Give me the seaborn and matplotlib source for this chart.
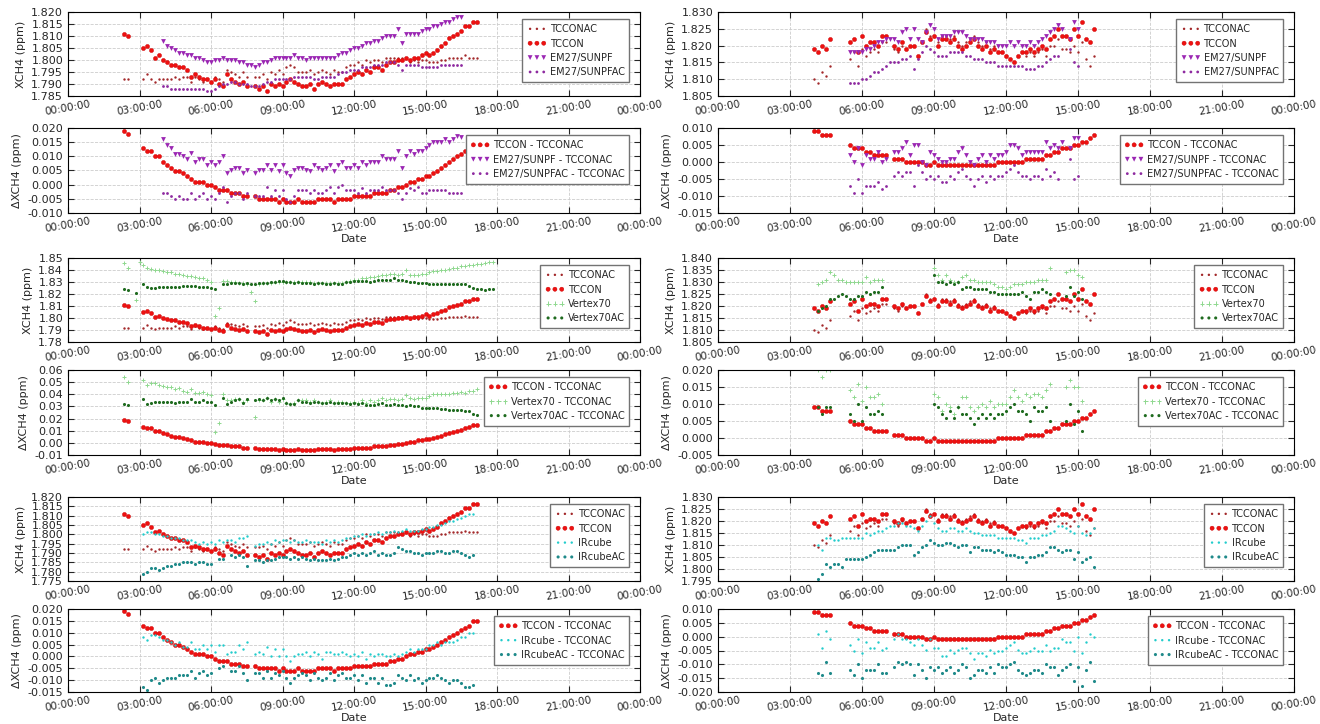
import numpy as np
import pandas as pd
import matplotlib
matplotlib.use("Agg")
import matplotlib.pyplot as plt
import matplotlib.dates as mdates
from matplotlib.ticker import MultipleLocator, FormatStrFormatter
import seaborn as sns

n = np.nan

# =========================
# Data (XCH4 in ppb, 10 min steps)
# =========================

# day 1 (left column), from 02:20
tccon_l = [1811, 1810, n, n, n, 1805, 1806, 1804, 1801, 1802,
           1800, 1799, 1798, 1798, 1797, 1797, 1796, 1793, 1794, 1793,
           1792, 1792, 1791, 1792, 1790, 1789, 1794, 1792, 1791, 1790,
           1791, 1789, n, 1789, 1788, 1789, 1787, 1790, 1789, 1790,
           1789, 1791, 1792, 1791, 1790, 1789, 1789, 1790, 1788, 1790,
           1791, 1790, 1789, 1790, 1790, 1790, 1792, 1793, 1794, 1795,
           1794, 1796, 1795, 1797, 1797, 1796, 1798, 1799, 1799, 1800,
           1800, 1801, 1800, 1801, 1801, 1802, 1803, 1802, 1803, 1804,
           1806, 1807, 1809, 1810, 1811, 1812, 1814, 1814, 1816, 1816,
           n, n, n, n]
tccon_diff_l = [19, 18, n, n, n, 13, 12, 12, 10, 10,
                8, 7, 6, 5, 5, 4, 3, 2, 1, 1,
                1, 0, 0, -1, -2, -2, -2, -3, -3, -3,
                -4, -4, n, -4, -5, -5, -5, -5, -5, -6,
                -5, -6, -6, -6, -5, -6, -6, -6, -6, -5,
                -5, -5, -5, -6, -5, -5, -5, -5, -4, -4,
                -4, -4, -4, -3, -3, -3, -3, -2, -2, -1,
                -1, 0, 1, 1, 2, 2, 3, 3, 4, 5,
                6, 7, 8, 9, 10, 11, 12, 13, 15, 15,
                n, n, n, n]
em27_l = [n] * 10 + [1808, 1806, 1805, 1804, 1803, 1803, 1802, 1802, 1801, 1801,
                     1800, 1799, 1799, 1800, 1800, 1801, 1800, 1800, 1800, 1799,
                     1799, 1798, 1798, 1797, 1798, 1799, 1799, 1800, 1801, 1801,
                     1801, 1801, 1801, 1802, 1801, 1801, 1800, 1801, 1801, 1801,
                     1801, 1801, 1801, 1801, 1802, 1803, 1803, 1804, 1805, 1805,
                     1806, 1807, 1807, 1808, 1808, 1809, 1810, 1810, 1810, 1813,
                     1807, 1811, 1811, 1811, 1811, 1812, 1813, 1813, 1814, 1814,
                     1815, 1816, 1816, 1817, 1818, 1818] + [n] * 8
em27ac_l = [n] * 10 + [1789, 1789, 1788, 1788, 1788, 1788, 1788, 1788, 1788, 1788,
                       1788, 1787, 1787, 1788, 1789, 1790, 1790, 1791, 1791, 1790,
                       1790, 1790, 1789, 1789, 1789, 1790, 1791, 1791, 1792, 1792,
                       1792, 1792, 1792, 1793, 1793, 1793, 1793, 1793, 1792, 1792,
                       1793, 1793, 1793, 1793, 1794, 1795, 1795, 1796, 1796, 1796,
                       1797, 1797, 1797, 1798, 1798, 1798, 1799, 1799, 1799, 1798,
                       1796, 1798, 1798, 1798, 1798, 1797, 1797, 1797, 1797, 1797,
                       1798, 1798, 1798, 1798, 1798, 1798] + [n] * 8
vertex_l = [1846, 1842, n, 1815, 1847, 1844, 1842, 1841, 1840, 1840,
            1839, 1838, 1838, 1837, 1837, 1836, 1835, 1835, 1834, 1833,
            1833, 1832, 1830, 1802, 1808, 1831, 1831, 1830, 1830, 1829,
            1829, 1828, 1822, 1814, 1828, 1829, 1829, 1829, 1830, 1830,
            1830, 1830, 1830, 1830, 1830, 1830, 1830, 1830, 1829, 1829,
            1829, 1829, 1829, 1829, 1829, 1829, 1830, 1831, 1832, 1832,
            1833, 1833, 1834, 1834, 1835, 1836, 1836, 1837, 1837, 1836,
            1837, 1840, 1836, 1836, 1836, 1837, 1837, 1838, 1839, 1839,
            1840, 1840, 1841, 1842, 1842, 1843, 1843, 1844, 1844, 1845,
            1845, 1846, 1847, 1847]
vertexac_l = [1824, 1823, n, 1821, n, 1828, 1826, 1825, 1825, 1826,
              1826, 1826, 1826, 1826, 1826, 1827, 1827, 1827, 1827, 1826,
              1826, 1826, 1825, 1824, n, 1828, 1828, 1829, 1829, 1829,
              1828, 1829, 1828, 1828, 1829, 1829, 1829, 1830, 1830, 1831,
              1831, 1830, 1830, 1829, 1830, 1829, 1829, 1829, 1828, 1829,
              1829, 1828, 1828, 1829, 1828, 1828, 1830, 1830, 1831, 1831,
              1831, 1831, 1830, 1831, 1832, 1832, 1832, 1832, 1833, 1832,
              1832, 1831, 1830, 1830, 1829, 1829, 1829, 1828, 1828, 1828,
              1828, 1828, 1828, 1828, 1828, 1828, 1828, 1827, 1825, 1824,
              1824, 1823, 1824, 1824]
ircube_l = [n] * 5 + [1800, 1801, 1801, 1800, 1800,
                      1799, 1799, 1798, 1798, 1798, 1797, 1797, 1797, 1796, 1795,
                      1796, 1795, 1796, 1795, 1797, 1796, 1797, 1797, 1796, 1798,
                      1798, 1799, n, 1794, 1795, 1795, 1796, 1795, 1797, 1796,
                      1797, 1797, 1796, 1797, 1796, 1796, 1797, 1796, 1796, 1796,
                      1795, 1797, 1796, 1797, 1796, 1797, 1798, 1798, 1799, 1799,
                      1800, 1799, 1800, 1800, 1801, 1800, 1801, 1801, 1802, 1801,
                      1802, 1803, 1802, 1802, 1802, 1803, 1803, 1804, 1804, 1805,
                      1805, 1806, 1807, 1807, 1808, 1809, 1810, 1811, 1811] + [n] * 5
ircubeac_l = [n] * 5 + [1779, 1780, 1782, 1782, 1781,
                        1782, 1783, 1783, 1784, 1784, 1785, 1785, 1785, 1784, 1785,
                        1785, 1784, 1784, n, 1787, 1787, n, 1789, 1788, 1789,
                        1788, 1783, n, 1786, 1786, 1785, 1786, 1786, 1787, 1788,
                        1788, 1788, 1787, 1788, 1787, 1788, 1787, 1786, 1787, 1786,
                        1786, 1786, 1787, 1786, 1787, 1788, 1788, 1789, 1790, 1789,
                        1790, 1789, 1790, 1791, 1789, 1790, 1789, 1789, 1790, 1793,
                        1792, 1791, 1791, 1790, 1790, 1789, 1790, 1790, 1790, 1791,
                        1791, 1790, 1790, 1791, 1791, 1790, 1789, 1788, 1789] + [n] * 5

# day 2 (right column), from 04:00
tccon_r = [1819, 1818, 1820, 1819, 1822, n, n, n, n, 1821,
           1822, 1818, 1823, 1820, 1821, 1821, 1820, 1823, 1823, n,
           1820, 1819, 1821, 1819, 1820, 1820, 1817, 1821, 1824, 1822,
           1823, 1820, 1822, 1822, 1821, 1822, 1820, 1819, 1820, 1821,
           1822, 1820, 1819, 1820, 1818, 1819, 1818, 1818, 1817, 1816,
           1815, 1817, 1818, 1818, 1819, 1818, 1819, 1820, 1819, 1822,
           1823, 1825, 1823, 1823, 1822, 1825, 1823, 1827, 1822, 1821,
           1825, n]
tccon_diff_r = [9, 9, 8, 8, 8, n, n, n, n, 5,
                4, 4, 4, 3, 3, 2, 2, 2, 2, n,
                1, 1, 1, 0, 0, 0, 0, 0, -1, -1,
                0, -1, -1, -1, -1, -1, -1, -1, -1, -1,
                -1, -1, -1, -1, -1, -1, 0, 0, 0, 0,
                0, 0, 0, 1, 1, 1, 1, 1, 2, 2,
                3, 3, 4, 4, 4, 5, 5, 6, 6, 7,
                8, n]
em27_r = [n] * 9 + [1818, 1818, 1818, 1818, 1819, 1819, 1820, 1821, 1821, 1822, 1822,
                    1822, 1821, 1824, 1825, 1822, 1825, 1822, 1821, 1824, 1826,
                    1825, 1822, 1823, 1823, 1823, 1824, 1824, 1824, 1823, 1822,
                    1822, 1822, 1822, 1821, 1821, 1821, 1820, 1820, 1820, 1821,
                    1820, 1821, 1820, 1820, 1821, 1820, 1821, 1822, 1823, 1824,
                    1825, 1826, 1825, n, 1822, 1827, 1825] + [n] * 5
em27ac_r = [n] * 9 + [1809, 1809, 1809, 1810, 1810, 1811, 1812, 1812, 1813, 1814, 1815,
                      1815, 1815, 1816, 1816, 1817, 1813, 1816, 1818, 1820, 1819,
                      1818, 1817, 1817, 1817, 1818, 1818, 1818, 1818, 1817, 1817,
                      1816, 1816, 1816, 1815, 1815, 1815, 1814, 1814, 1814, 1814,
                      1814, 1814, 1814, 1813, 1813, 1813, 1814, 1814, 1815, 1816,
                      1817, 1817, n, n, 1819, 1815, 1814] + [n] * 5
vertex_r = [n, 1829, 1830, 1831, 1834, 1833, 1831, 1831, 1830, 1830,
            1830, 1830, 1830, 1832, 1830, 1831, 1831, 1831] + [n] * 12 + [
            1836, 1833, 1831, 1833, 1831, 1830, 1830, 1832, 1833, 1831,
            1831, 1830, 1830, 1830, 1830, 1829, 1828, 1828, 1827, 1828,
            1829, 1829, 1829, 1830, 1830, 1830, 1831, 1831, 1831, 1836,
            n, n, n, 1834, 1835, 1835, 1833, 1832] + [n] * 4
vertexac_r = [n, 1818, 1819, 1820, 1823, 1823, 1824, 1825, 1824, 1823,
              1823, 1824, 1824, 1826, 1825, 1826, 1826, 1828] + [n] * 12 + [
              1833, 1830, 1830, 1829, 1830, 1829, 1830, 1827, 1828, 1828,
              1827, 1827, 1827, 1827, 1826, 1826, 1825, 1825, 1825, 1825,
              1825, 1825, 1826, 1824, 1823, 1826, 1826, 1827, 1826, 1825,
              n, n, n, 1824, 1828, 1824, 1826, 1823] + [n] * 4
ircube_r = [n, 1810, 1808, 1813, 1813, 1812, 1812, 1813, 1813, 1813,
            1813, 1813, 1813, 1815, 1814, 1815, 1816, 1816, 1817, 1818,
            1818, 1819, 1819, 1818, 1818, 1817, 1816, 1818, 1820, 1822,
            1819, 1817, 1816, 1816, 1817, 1817, 1816, 1816, 1817, 1816,
            1815, 1815, 1814, 1814, 1814, 1814, 1813, 1813, 1813, 1813,
            1813, 1812, 1812, 1811, 1813, 1813, 1813, 1814, 1814, 1815,
            1816, 1818, 1818, 1817, 1816, 1815, 1818, 1815, 1814, 1815,
            1817, n]
ircubeac_r = [n, 1796, 1798, 1802, 1801, 1802, 1802, 1801, 1804, 1804,
              1804, 1804, 1804, 1805, 1806, 1807, 1808, 1808, 1808, 1808,
              1808, 1809, 1810, 1810, 1810, 1806, 1807, 1809, 1810, 1812,
              1811, 1810, 1810, 1811, 1811, 1810, 1809, 1810, 1810, 1807,
              1809, 1809, 1808, 1808, 1808, 1807, 1808, 1807, 1806, 1806,
              1806, 1805, 1805, 1803, 1805, 1805, 1806, 1806, 1807, 1809,
              1809, 1808, 1807, 1808, 1808, 1804, 1807, 1803, 1804, 1805,
              1801, n]


def make_day(start, tccon, diff, inst):
    df = pd.DataFrame({"time": pd.date_range(start, periods=len(tccon), freq="10min")})
    df["TCCON"] = np.array(tccon, float) / 1000
    df["TCCONAC"] = df["TCCON"] - np.array(diff, float) / 1000
    df["TCCON - TCCONAC"] = df["TCCON"] - df["TCCONAC"]
    for name, vals in inst.items():
        df[name] = np.array(vals, float) / 1000
        df[name + " - TCCONAC"] = df[name] - df["TCCONAC"]
    return df


day_l = make_day("2015-06-01 02:20", tccon_l, tccon_diff_l,
                 {"EM27/SUNPF": em27_l, "EM27/SUNPFAC": em27ac_l,
                  "Vertex70": vertex_l, "Vertex70AC": vertexac_l,
                  "IRcube": ircube_l, "IRcubeAC": ircubeac_l})
day_r = make_day("2015-06-02 04:00", tccon_r, tccon_diff_r,
                 {"EM27/SUNPF": em27_r, "EM27/SUNPFAC": em27ac_r,
                  "Vertex70": vertex_r, "Vertex70AC": vertexac_r,
                  "IRcube": ircube_r, "IRcubeAC": ircubeac_r})

# marker styles
styles = {
    "TCCONAC": dict(marker="o", s=3, color="#a3282a", linewidth=0),
    "TCCON": dict(marker="o", s=9, color="#ee1111", edgecolor="#cc0000", linewidth=0.3),
    "EM27/SUNPF": dict(marker="v", s=12, color="#9b27b3", linewidth=0),
    "EM27/SUNPFAC": dict(marker="o", s=4, color="#8e2aa0", linewidth=0),
    "Vertex70": dict(marker="+", s=12, color="#8fd88f", linewidth=0.7),
    "Vertex70AC": dict(marker="o", s=5, color="#1f6b1f", linewidth=0),
    "IRcube": dict(marker="o", s=3, color="#22cccc", linewidth=0),
    "IRcubeAC": dict(marker="o", s=5, color="#1f8a8a", linewidth=0),
}

# =========================
# Figure
# =========================

sns.set_theme(style="ticks")
plt.rcParams["font.family"] = ["DejaVu Sans"]
plt.rcParams["font.size"] = 8

fig = plt.figure(figsize=(13.2, 7.24), dpi=100)


def rect(l, t, r, b):
    return [l / 1320, 1 - b / 724, (r - l) / 1320, (b - t) / 724]


cols = [(68, 640), (718, 1294)]
rows = [(12, 96), (128, 213), (258, 342), (370, 455), (497, 581), (609, 692)]

groups = [("EM27/SUNPF", "EM27/SUNPFAC"), ("Vertex70", "Vertex70AC"), ("IRcube", "IRcubeAC")]

ylims = {
    0: [(1.785, 1.820, 0.005, "%.3f"), (-0.010, 0.020, 0.005, "%.3f"),
        (1.78, 1.85, 0.01, "%.2f"), (-0.01, 0.06, 0.01, "%.2f"),
        (1.775, 1.820, 0.005, "%.3f"), (-0.015, 0.020, 0.005, "%.3f")],
    1: [(1.805, 1.830, 0.005, "%.3f"), (-0.015, 0.010, 0.005, "%.3f"),
        (1.805, 1.840, 0.005, "%.3f"), (-0.005, 0.020, 0.005, "%.3f"),
        (1.795, 1.830, 0.005, "%.3f"), (-0.020, 0.010, 0.005, "%.3f")],
}


def style_axis(ax, day0, lim):
    lo, hi, step, fmt = lim
    ax.set_ylim(lo, hi)
    ax.yaxis.set_major_locator(MultipleLocator(step))
    ax.yaxis.set_major_formatter(FormatStrFormatter(fmt))
    ax.set_xlim(day0, day0 + pd.Timedelta(days=1))
    ax.xaxis.set_major_locator(mdates.HourLocator(byhour=range(0, 24, 3)))
    ax.xaxis.set_major_formatter(mdates.DateFormatter("%H:%M:%S"))
    ax.grid(True, color="0.8", linestyle="--", linewidth=0.6)
    ax.tick_params(direction="in", top=True, right=True, labelsize=8, length=4, width=0.8)
    ax.tick_params(axis="x", labelsize=7.5, pad=2)
    for sp in ax.spines.values():
        sp.set_color("black")
        sp.set_linewidth(0.8)
    plt.setp(ax.get_xticklabels(), rotation=10)
    ax.legend(loc="upper right", scatterpoints=3, scatteryoffsets=[0.5], fontsize=7,
              fancybox=False, edgecolor="0.45", framealpha=1, borderpad=0.5,
              handletextpad=0.3, labelspacing=0.45, bbox_to_anchor=(0.99, 0.97))


for c, df in enumerate([day_l, day_r]):
    day0 = df["time"].iloc[0].normalize()
    l, r = cols[c]
    for g, (inst, inst_ac) in enumerate(groups):
        # absolute XCH4
        ax = fig.add_axes(rect(l, rows[2 * g][0], r, rows[2 * g][1]))
        for name in ["TCCONAC", "TCCON", inst, inst_ac]:
            sns.scatterplot(data=df, x="time", y=name, ax=ax, label=name, **styles[name])
        style_axis(ax, day0, ylims[c][2 * g])
        ax.set_xlabel("")
        ax.set_ylabel("XCH4 (ppm)", fontsize=8)

        # differences to TCCONAC
        ax = fig.add_axes(rect(l, rows[2 * g + 1][0], r, rows[2 * g + 1][1]))
        for name in ["TCCON", inst, inst_ac]:
            col = name + " - TCCONAC"
            sns.scatterplot(data=df, x="time", y=col, ax=ax, label=col, **styles[name])
        style_axis(ax, day0, ylims[c][2 * g + 1])
        ax.set_xlabel("Date", fontsize=8, labelpad=0)
        ax.set_ylabel("\u0394XCH4 (ppm)", fontsize=8)

fig.savefig("out.png", dpi=100)
